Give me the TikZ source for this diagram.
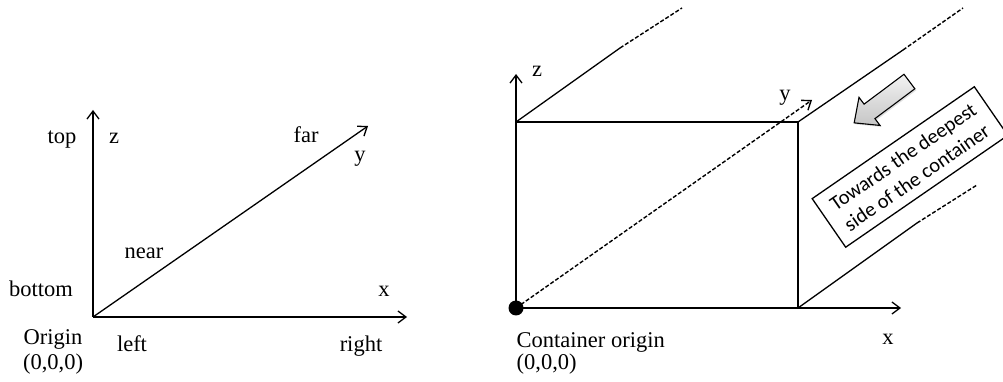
\documentclass[tikz,border=0pt]{standalone}
\usepackage{fontspec}
\setmainfont{Liberation Serif}
\newfontfamily\notefont{Carlito}
\usetikzlibrary{arrows.meta,shapes.arrows,shadows}

\begin{document}
\begin{tikzpicture}[x=1pt, y=1pt, >={Straight Barb[length=8pt,width=12pt]}, line width=1.3pt]
  \tikzstyle{lbl}=[inner sep=0pt, anchor=base, font=\fontsize{22.5}{26}\selectfont]
  \tikzstyle{hidden}=[line width=1.4pt, dash pattern=on 4pt off 2pt]
  \tikzstyle{note}=[draw, rotate=34.6, minimum width=197pt, minimum height=59pt,
    inner sep=2pt, align=left, font=\notefont\fontsize{20.5}{25}\selectfont]
  \tikzstyle{hint}=[single arrow, draw, line width=1.1pt, rotate=216.8,
    minimum height=69pt, inner xsep=0pt, inner ysep=8.5pt,
    single arrow head extend=8.5pt, single arrow tip angle=85,
    top color=gray!10, bottom color=gray!45,
    drop shadow={opacity=0.25, shadow xshift=1.5pt, shadow yshift=-1.5pt}]

  \useasboundingbox (0,0) rectangle (1003,382);

  % Left: plain axes with direction words
  \coordinate (o1) at (93,65);
  \coordinate (z1) at (93,272);
  \coordinate (x1) at (407,65);
  \coordinate (y1) at (368,256);
  \draw[->] (o1) -- (z1);
  \draw[->] (o1) -- (x1);
  \draw[->] (o1) -- (y1);

  \node[lbl] (top)    at (62,238)  {top};
  \node[lbl] (zl)     at (114,238) {z};
  \node[lbl] (far)    at (306,239) {far};
  \node[lbl] (yl)     at (360,220) {y};
  \node[lbl] (near)   at (144,123) {near};
  \node[lbl] (bottom) at (41,85)   {bottom};
  \node[lbl] (xl)     at (384,85)  {x};
  \node[lbl] (orig)   at (53,37)   {Origin};
  \node[lbl] (zero)   at (53,12)   {(0,0,0)};
  \node[lbl] (left)   at (132,30)  {left};
  \node[lbl] (right)  at (361,30)  {right};

  % Right: container box
  \node[circle, fill, minimum size=15pt, inner sep=0pt] (o2) at (516,74) {};
  \coordinate (z2) at (516,308);
  \coordinate (x2) at (901,74);
  \coordinate (y2) at (812,282);
  \coordinate (tl) at (516,260);
  \coordinate (tr) at (798,260);
  \coordinate (br) at (798,74);

  \draw[->] (o2.center) -- (z2);
  \draw[->] (o2.center) -- (x2);
  \draw[hidden, ->] (o2.center) -- (y2);
  \draw (tl) -- (tr) -- (br);

  % edges running away into depth
  \coordinate (tl1) at (620,334);
  \coordinate (tl2) at (682,374);
  \coordinate (tr1) at (903,332);
  \coordinate (tr2) at (963,374);
  \coordinate (br1) at (917,159);
  \coordinate (br2) at (977,197);
  \draw (tl) -- (tl1);
  \draw[hidden] (tl1) -- (tl2);
  \draw (tr) -- (tr1);
  \draw[hidden] (tr1) -- (tr2);
  \draw (br) -- (br1);
  \draw[hidden] (br1) -- (br2);

  \node[lbl] (zr) at (537,305) {z};
  \node[lbl] (yr) at (785,281) {y};
  \node[lbl] (xr) at (888,37)  {x};
  \node[lbl, anchor=base west] (corig) at (516,34) {Container origin};
  \node[lbl, anchor=base west] (czero) at (516,12) {(0,0,0)};

  \node[hint] (push) at (885.75,282.75) {};
  \node[note] (deep) at (910,215) {Towards the deepest\\side of the container};
\end{tikzpicture}
\end{document}
